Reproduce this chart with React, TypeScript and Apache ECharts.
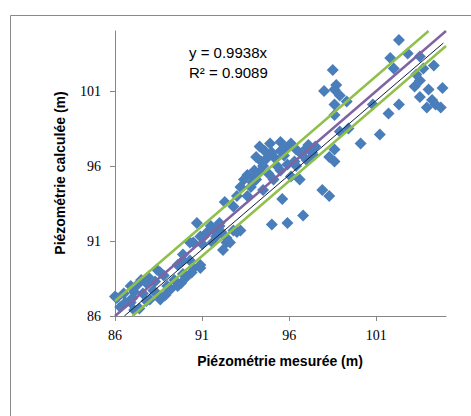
import React, { useEffect, useRef } from 'react';
import * as echarts from 'echarts';

const xTicks = [86, 91, 96, 101];
const yTicks = [86, 91, 96, 101];
const axisMin = 86;
const axisMax = 105;

// [measured, calculated]
const observations: [number, number][] = [
  // top right
  [102.3, 104.4], [102.8, 103.5], [101.8, 103.2], [102.0, 102.5], [103.5, 103.3], [103.7, 102.5],
  [104.3, 102.7], [103.3, 102.1], [103.2, 101.3], [103.5, 101.7], [104.0, 101.1], [104.8, 101.2],
  [103.5, 100.6], [104.2, 100.4], [103.9, 99.9], [104.7, 99.9], [104.4, 100.1],
  [98.5, 102.4], [98.7, 101.4], [98.0, 101.0], [98.6, 101.1], [98.9, 100.7], [98.6, 100.1],
  [99.3, 100.3], [98.6, 99.4], [102.3, 100.1], [101.7, 99.5], [100.8, 100.1], [98.9, 98.3],
  [99.4, 98.5], [100.1, 97.5], [97.1, 97.4], [98.6, 97.1], [97.4, 96.7], [101.2, 98.1],
  [98.3, 96.6], [98.6, 96.3],
  // middle
  [94.3, 97.3], [94.9, 97.5], [95.5, 97.6], [96.1, 97.5], [96.4, 97.1], [97.0, 97.2], [97.5, 97.3],
  [94.1, 96.6], [94.7, 96.5], [95.7, 96.7], [96.3, 96.3], [97.0, 96.4], [94.5, 96.0], [95.3, 96.0],
  [95.9, 96.1], [94.0, 95.7], [94.1, 95.1], [96.4, 96.0], [96.6, 95.1], [95.6, 93.8], [97.9, 94.4],
  [98.3, 94.0], [96.8, 92.7], [95.0, 92.1], [95.9, 92.2],
  [94.8, 95.5], [95.2, 96.5], [94.6, 97.0], [95.8, 97.2], [93.9, 94.9], [94.3, 95.6],
  [95.0, 96.9], [95.5, 97.0], [96.7, 96.8], [94.4, 96.3], [93.6, 95.4], [97.3, 96.9],
  [92.3, 93.6], [93.4, 95.1], [94.0, 95.2], [93.2, 94.6], [93.8, 94.6], [93.0, 94.0], [93.6, 94.0],
  [92.8, 93.3], [95.5, 95.7], [96.1, 95.3], [95.1, 95.1], [94.5, 94.4],
  // lower middle
  [90.7, 92.2], [91.5, 92.0], [92.0, 92.2], [91.1, 91.3], [91.8, 91.3], [92.4, 91.2], [93.0, 91.6],
  [92.4, 90.9], [90.3, 90.9], [90.9, 91.3], [92.8, 91.7], [92.6, 90.9], [93.2, 91.7], [89.9, 89.7],
  [90.9, 89.4], [90.5, 90.9], [92.2, 90.4], [91.7, 91.7], [92.0, 92.0],
  [91.3, 91.6], [91.6, 90.9], [92.1, 91.6], [91.0, 90.8],
  // bottom left
  [86.1, 87.2], [86.5, 87.5], [86.3, 86.6], [86.9, 86.9], [87.3, 88.1], [87.1, 87.6], [87.6, 87.5],
  [87.8, 88.2], [88.2, 87.7], [88.0, 87.1], [88.6, 87.1], [88.8, 88.7], [89.4, 88.4], [89.0, 88.0],
  [89.6, 88.0], [90.1, 88.6], [89.8, 88.2], [90.3, 89.7], [90.5, 89.2], [90.9, 89.2], [88.4, 89.1],
  [87.5, 88.4], [86.9, 88.0], [87.1, 86.4], [89.6, 89.4], [89.9, 90.1], [87.4, 86.5], [86.0, 87.3],
  [87.0, 87.2], [87.8, 87.0], [88.4, 87.5], [88.9, 87.4], [89.2, 87.8], [86.6, 86.9], [88.3, 88.3],
  [89.9, 88.8], [90.4, 88.9], [87.9, 88.6], [88.6, 88.9],
];

const identityLine: [number, number][] = [[86, 86], [105, 105]];
const upperBand: [number, number][] = [[86, 87], [104, 105]];
const lowerBand: [number, number][] = [[87, 86], [105, 104]];
const trendSlope = 0.9938;
const trendRange = [86.54, 104.85];
const equationText = 'y = 0.9938x';
const r2Text = 'R² = 0.9089';
const xTitle = 'Piézométrie mesurée (m)';
const yTitle = 'Piézométrie calculée (m)';

export default function App() {
  const ref = useRef<HTMLDivElement>(null);
  useEffect(() => {
    if (!ref.current) return;
    const chart = echarts.init(ref.current, undefined, { renderer: 'svg' });
    const trendLine = trendRange.map((x) => [x, trendSlope * x]);
    const axisColor = '#868686';
    const axisCommon = {
      type: 'value' as const,
      min: axisMin,
      max: axisMax,
      splitLine: { show: false },
      axisLine: { show: true, onZero: false, lineStyle: { color: axisColor, width: 1 } },
    };
    chart.setOption({
      animation: false,
      grid: { left: 115, top: 31, right: 25, bottom: 100, containLabel: false },
      xAxis: {
        ...axisCommon,
        axisTick: { show: true, customValues: xTicks, length: 5, lineStyle: { color: axisColor } },
        axisLabel: { customValues: xTicks, margin: 12, fontFamily: 'Liberation Serif', fontSize: 14, color: '#000' },
      },
      yAxis: {
        ...axisCommon,
        axisTick: { show: true, customValues: yTicks, length: 5, lineStyle: { color: axisColor } },
        axisLabel: { customValues: yTicks, margin: 14, fontFamily: 'Liberation Serif', fontSize: 14, color: '#000' },
      },
      series: [
        {
          type: 'scatter',
          data: observations,
          symbol: 'diamond',
          symbolSize: 12,
          itemStyle: { color: '#4a7ebb', opacity: 1 },
          silent: true,
          z: 2,
        },
        {
          type: 'line', data: upperBand, symbol: 'none', silent: true, z: 3,
          lineStyle: { color: '#8fc04c', width: 2.5 },
        },
        {
          type: 'line', data: lowerBand, symbol: 'none', silent: true, z: 3,
          lineStyle: { color: '#8fc04c', width: 2.5 },
        },
        {
          type: 'line', data: identityLine, symbol: 'none', silent: true, z: 4,
          lineStyle: { color: '#8064a2', width: 2.5 },
        },
        {
          type: 'line', data: trendLine, symbol: 'none', silent: true, z: 5,
          lineStyle: { color: '#1a1f3a', width: 1 },
        },
      ],
      graphic: [
        {
          type: 'rect', left: 8, top: 13, silent: true,
          shape: { width: 480, height: 420 },
          style: { fill: 'none', stroke: '#8a8a8a', lineWidth: 1 },
        },
        {
          type: 'text', x: 189, y: 52, silent: true,
          style: { text: equationText, font: '15px "Liberation Sans"', fill: '#000', textAlign: 'left', textVerticalAlign: 'middle' },
        },
        {
          type: 'text', x: 189, y: 72, silent: true,
          style: { text: r2Text, font: '15px "Liberation Sans"', fill: '#000', textAlign: 'left', textVerticalAlign: 'middle' },
        },
        {
          type: 'text', x: 280, y: 361, silent: true,
          style: { text: xTitle, font: 'bold 14px "Liberation Sans"', fill: '#000', textAlign: 'center', textVerticalAlign: 'middle' },
        },
        {
          type: 'text', x: 60, y: 173, rotation: Math.PI / 2, silent: true,
          style: { text: yTitle, font: 'bold 14px "Liberation Sans"', fill: '#000', textAlign: 'center', textVerticalAlign: 'middle' },
        },
      ],
    });
    return () => chart.dispose();
  }, []);
  return (
    <div
      ref={ref}
      style={{ position: 'fixed', left: 0, top: 0, width: 471, height: 416, background: '#fff' }}
    />
  );
}
